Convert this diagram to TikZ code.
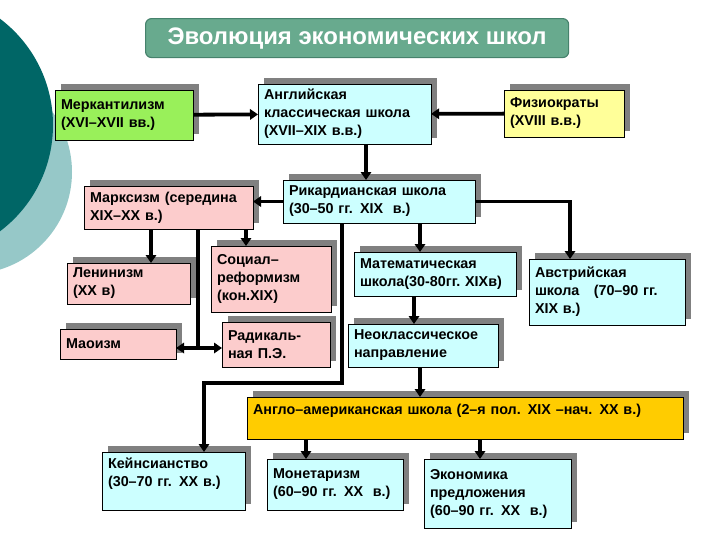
\documentclass[tikz,border=0pt]{standalone}
\usepackage{fontspec}
\setmainfont{Liberation Sans}
\usepackage{xcolor}
\usepackage{tikz}
\usetikzlibrary{arrows.meta, shadows}

\definecolor{titlegreen}{RGB}{104,170,142}
\definecolor{titleedge}{RGB}{70,130,108}
\definecolor{limebox}{RGB}{153,240,90}
\definecolor{pinkbox}{RGB}{252,204,204}
\definecolor{cyanbox}{RGB}{204,255,255}
\definecolor{yellowbox}{RGB}{255,255,153}
\definecolor{goldbox}{RGB}{255,204,0}
\definecolor{shadowgray}{RGB}{128,128,128}
\definecolor{darkteal}{RGB}{0,102,102}
\definecolor{lightteal}{RGB}{150,200,200}

\begin{document}
\begin{tikzpicture}[
  x=0.025cm, y=-0.025cm,
  box/.style={rectangle, draw=black, line width=0.6pt, anchor=north west,
              inner xsep=0.15cm, inner ysep=0pt, outer sep=0pt, align=left,
              font=\fontsize{10.2}{12.8}\selectfont\bfseries,
              drop shadow={shadow xshift=0.15cm, shadow yshift=0.15cm,
                           fill=shadowgray, opacity=1}},
  titlebox/.style={rectangle, rounded corners=0.15cm, draw=titleedge, line width=0.8pt,
              fill=titlegreen, anchor=north west, text=white,
              font=\fontsize{17}{20}\selectfont\bfseries},
  arrow/.style={-{Triangle[length=0.2cm, width=0.26cm]}, line width=0.095cm},
  line/.style={line width=0.095cm}
]
\useasboundingbox (0,0) rectangle (720,540);
\begin{scope}
  \clip (0,0) rectangle (720,540);
  \fill[lightteal] (-30,172) circle[radius=102];
  \fill[darkteal]  (-80,125) circle[radius=133];
\end{scope}

\node[titlebox, minimum width=10.575cm, minimum height=0.975cm] (title) at (145,18)
  {Эволюция экономических школ};

\node[box, fill=limebox,   text width=3.15cm,  minimum height=1.25cm]  (merc)    at (55,90)   {Меркантилизм\\(XVI–XVII вв.)};
\node[box, fill=cyanbox,   text width=4.025cm, minimum height=1.5cm]   (engl)    at (258,84)  {Английская\\классическая школа\\(XVII–XIX в.в.)};
\node[box, fill=yellowbox, text width=2.7cm,   minimum height=1.175cm] (phys)    at (504,90)  {Физиократы\\(XVIII в.в.)};
\node[box, fill=cyanbox,   text width=4.5cm,   minimum height=1.075cm] (ricard)  at (283,180) {Рикардианская школа\\(30–50 гг. XIX\ \ в.)};
\node[box, fill=pinkbox,   text width=3.925cm, minimum height=1.075cm] (marx)    at (84,186)  {Марксизм (середина\\XIX–XX в.)};
\node[box, fill=pinkbox,   text width=2.775cm, minimum height=1.025cm] (lenin)   at (67,263)  {Ленинизм\\(XX в)};
\node[box, fill=pinkbox,   text width=2.6cm,   minimum height=0.75cm]  (mao)     at (60,329)  {Маоизм};
\node[box, fill=pinkbox,   text width=2.7cm,   minimum height=1.65cm]  (socref)  at (211,246) {Социал–\\реформизм\\(кон.XIX)};
\node[box, fill=pinkbox,   text width=2.4cm,   minimum height=1.125cm] (radical) at (222,322) {Радикаль-\\ная П.Э.};
\node[box, fill=cyanbox,   text width=3.75cm,  minimum height=1.1cm]   (math)    at (354,252) {Математическая\\школа(30-80гг.~XIXв)};
\node[box, fill=cyanbox,   text width=3.6cm,   minimum height=1.65cm]  (austr)   at (529,259) {Австрийская\\школа\hspace{1em}(70–90 гг.\\XIX в.)};
\node[box, fill=cyanbox,   text width=3.45cm,  minimum height=1.075cm] (neocl)   at (348,324) {Неоклассическое\\направление};
\node[box, fill=goldbox,   text width=10.6cm,  minimum height=1.05cm]  (anglo)   at (247,397) {Англо–американская школа (2–я пол. XIX –нач. XX в.)\\\mbox{}};
\node[box, fill=cyanbox,   text width=3.275cm, minimum height=1.45cm]  (keynes)  at (102,452) {Кейнсианство\\(30–70 гг. XX в.)\\\mbox{}};
\node[box, fill=cyanbox,   text width=3.1cm,   minimum height=1.275cm] (monet)   at (267,459) {Монетаризм\\(60–90 гг. XX\ \ в.)};
\node[box, fill=cyanbox,   text width=3.375cm, minimum height=1.725cm] (supply)  at (424,459) {Экономика\\предложения\\(60–90 гг. XX\ \ в.)};

\coordinate (eng-ric) at (366,0);
\coordinate (ric-mat) at (420,0);
\coordinate (ric-aus) at (570,0);
\coordinate (mat-neo) at (414,0);
\coordinate (neo-ang) at (420,0);
\coordinate (mar-len) at (151,0);
\coordinate (mar-soc) at (246,0);
\coordinate (mar-rad) at (198,348);
\coordinate (ric-key) at (342,383);
\coordinate (key-bend) at (204,383);
\coordinate (ang-mon) at (306,0);
\coordinate (ang-sup) at (480,0);

\draw[arrow] (merc) -- (engl);
\draw[arrow] (phys) -- (engl);
\draw[arrow] (engl.south -| eng-ric) -- (ricard.north -| eng-ric);
\draw[arrow] (ricard.west) -- (ricard.west -| marx.east);
\draw[arrow] (ricard.east) -| (austr.north -| ric-aus);
\draw[arrow] (ricard.south -| ric-mat) -- (math.north -| ric-mat);
\draw[arrow] (math.south -| mat-neo) -- (neocl.north -| mat-neo);
\draw[arrow] (neocl.south -| neo-ang) -- (anglo.north -| neo-ang);
\draw[arrow] (ricard.south -| ric-key) -- (ric-key) -- (key-bend) -- (keynes.north -| key-bend);
\draw[arrow] (marx.south -| mar-len) -- (lenin.north -| mar-len);
\draw[arrow] (marx.south -| mar-soc) -- (socref.north -| mar-soc);
\draw[line]  (marx.south -| mar-rad) -- (mar-rad);
\draw[arrow] (mar-rad) -- (mar-rad -| mao.east);
\draw[arrow] (mar-rad) -- (mar-rad -| radical.west);
\draw[arrow] (anglo.south -| ang-mon) -- (monet.north -| ang-mon);
\draw[arrow] (anglo.south -| ang-sup) -- (supply.north -| ang-sup);
\end{tikzpicture}
\end{document}
